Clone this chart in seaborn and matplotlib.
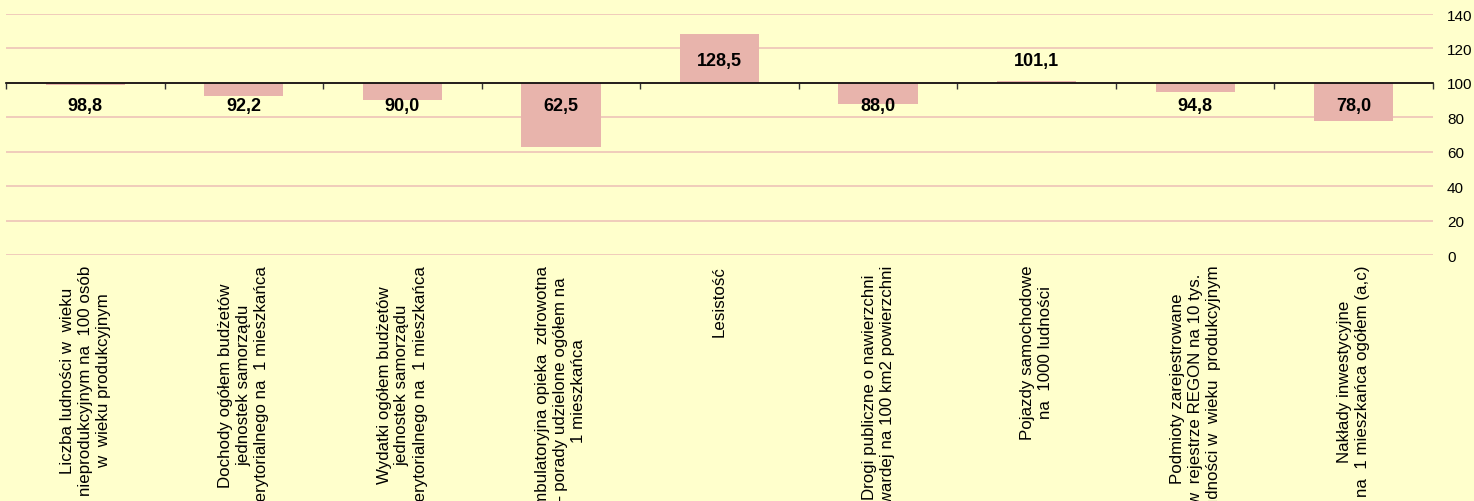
import numpy as np
import pandas as pd
import matplotlib
matplotlib.use("Agg")
import matplotlib.pyplot as plt
import seaborn as sns

# indicator names (as wrapped in the original) and index values (base = 100)
categories = [
    "Liczba ludności w  wieku\nnieprodukcyjnym na  100 osób\nw  wieku produkcyjnym",
    "Dochody ogółem budżetów\njednostek samorządu\nterytorialnego na  1 mieszkańca",
    "Wydatki ogółem budżetów\njednostek samorządu\nterytorialnego na  1 mieszkańca",
    "Ambulatoryjna opieka  zdrowotna\n– porady udzielone ogółem na\n1 mieszkańca",
    "Lesistość",
    "Drogi publiczne o nawierzchni\ntwardej na 100 km2 powierzchni",
    "Pojazdy samochodowe\nna  1000 ludności",
    "Podmioty zarejestrowane\nw  rejestrze REGON na 10 tys.\nludności w  wieku  produkcyjnym",
    "Nakłady inwestycyjne\nna  1 mieszkańca ogółem (a,c)",
]
values = [98.8, 92.2, 90.0, 62.5, 128.5, 88.0, 101.1, 94.8, 78.0]
base = 100
y_ticks = [0, 20, 40, 60, 80, 100, 120, 140]

bg = "#FFFFCC"
bar_color = "#E8B4AC"
grid_color = "#EEC4B8"

plt.rcParams["font.family"] = ["Liberation Sans", "DejaVu Sans"]

df = pd.DataFrame({"cat": categories, "value": values})
df["delta"] = df["value"] - base

fig = plt.figure(figsize=(14.74, 5.02), dpi=100, facecolor=bg)
ax = fig.add_axes([6 / 1474, 0.490, 1427 / 1474, 0.480], facecolor=bg)

sns.barplot(data=df, x="cat", y="delta", bottom=base, color=bar_color,
            saturation=1, width=0.5, linewidth=0, ax=ax)

ax.set_xlim(-0.5, len(categories) - 0.5)
ax.set_ylim(0, 140)

# horizontal grid, y axis on the right
ax.set_yticks(y_ticks)
ax.set_yticklabels([str(t) for t in y_ticks], fontsize=11)
ax.yaxis.tick_right()
ax.tick_params(axis="y", length=0, pad=10)
ax.grid(axis="y", color=grid_color, linewidth=1.2)
ax.set_axisbelow(True)

# category axis drawn at the base line
for s in ["top", "left", "right"]:
    ax.spines[s].set_visible(False)
ax.spines["bottom"].set_position(("data", base))
ax.spines["bottom"].set_color("black")
ax.spines["bottom"].set_linewidth(1.2)
ax.set_xticks(np.arange(-0.5, len(categories), 1))
ax.set_xticklabels([])
ax.tick_params(axis="x", direction="out", length=4, width=1, color="#333333")
ax.set_xlabel("")
ax.set_ylabel("")

# value labels
for i, v in enumerate(values):
    y = base + 13 if v > base else base - 13
    ax.text(i, y, f"{v:.1f}".replace(".", ","), ha="center", va="center",
            fontsize=13, fontweight="bold", color="black")

# category labels below the plot, rotated
trans = ax.get_xaxis_transform()
for i, c in enumerate(categories):
    ax.text(i, -0.04, c, transform=trans, rotation=90, ha="center", va="top",
            multialignment="center", fontsize=12.2, color="black",
            linespacing=1.25, clip_on=False)

fig.savefig("out.png", dpi=100, facecolor=bg)
